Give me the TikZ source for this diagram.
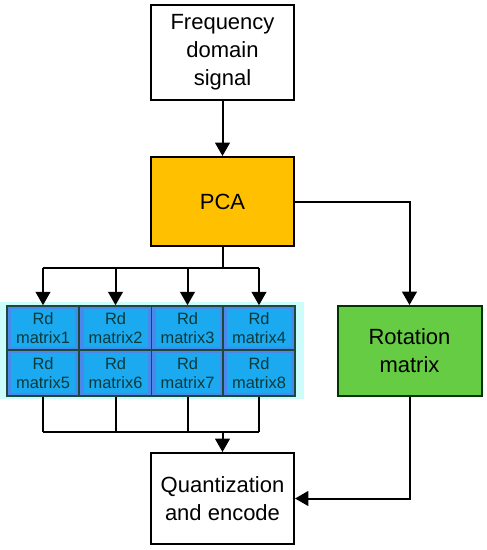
\documentclass[tikz,border=0pt]{standalone}
\usepackage{fontspec}
\setmainfont{Liberation Sans}
\usetikzlibrary{arrows.meta}
\definecolor{pcaor}{HTML}{FFC000}
\definecolor{rotgr}{HTML}{66CC44}
\definecolor{cellout}{HTML}{4A88EC}
\definecolor{cellin}{HTML}{1BA9F0}
\definecolor{glow}{HTML}{CCFCFC}
\definecolor{celltext}{HTML}{0A3A3A}
\definecolor{cellframe}{HTML}{1A4A3A}
\tikzset{
  blk/.style={draw=black, line width=1.5pt, inner sep=0pt, font=\fontsize{16.5}{21}\selectfont, align=center},
  cellbox/.style={draw=cellframe, line width=1.2pt, fill=cellout, inner sep=0pt, align=center, text=celltext, font=\fontsize{12.3}{13.7}\selectfont},
  conn/.style={line width=1.5pt},
  arr/.style={line width=1.5pt, -{Triangle[length=10pt,width=11pt]}},
}
\begin{document}
\begin{tikzpicture}[x=0.75pt,y=-0.75pt]
\useasboundingbox (0,0) rectangle (486,550);
% glow
\fill[glow] (0,302) rectangle (304,399);
% main boxes
\node[blk, fill=white, minimum width=107.25pt, minimum height=71.25pt] (freq) at (222.5,52.5) {Frequency\\domain\\signal};
\node[blk, fill=pcaor, minimum width=107.25pt, minimum height=66.75pt] (pca) at (222.5,201.5) {PCA};
\node[blk, fill=rotgr, draw=black!80!green, minimum width=108pt, minimum height=67.5pt] (rot) at (409.5,351) {Rotation\\matrix};
\node[blk, fill=white, minimum width=107.25pt, minimum height=68.25pt] (quant) at (222.5,498.5) {Quantization\\and encode};
% cells
\foreach \i/\x in {1/43,2/115.5,3/187.5,4/259}{
  \fill[cellout] (\x-36,306) rectangle (\x+36,350);
  \fill[cellin] (\x-32,309) rectangle (\x+32,347);
  \node[cellbox, fill=none, minimum width=54pt, minimum height=33pt] (c\i) at (\x,328) {Rd\\matrix\i};
}
\foreach \i/\x in {5/43,6/115.5,7/187.5,8/259}{
  \fill[cellout] (\x-36,350) rectangle (\x+36,396);
  \fill[cellin] (\x-32,353) rectangle (\x+32,393);
  \node[cellbox, fill=none, minimum width=54pt, minimum height=34.5pt] (c\i) at (\x,373) {Rd\\matrix\i};
}
% connectors
\draw[arr] (freq) -- (pca);
\coordinate (top) at (222.5,268);
\draw[conn] (pca.south) -- (top);
\draw[conn] (43,268) -- (259,268);
\foreach \i/\x in {1/43,2/115.5,3/187.5,4/259}{
  \draw[arr] (\x,268) -- (c\i.north);
}
\foreach \i/\x in {5/43,6/115.5,7/187.5,8/259}{
  \draw[conn] (c\i.south) -- (\x,432);
}
\draw[conn] (43,432) -- (259,432);
\coordinate (bot) at (222.5,432);
\draw[arr] (bot) -- (quant.north);
\draw[arr] (pca.east) -| (rot.north);
\draw[arr] (rot.south) |- (quant.east);
\end{tikzpicture}
\end{document}
